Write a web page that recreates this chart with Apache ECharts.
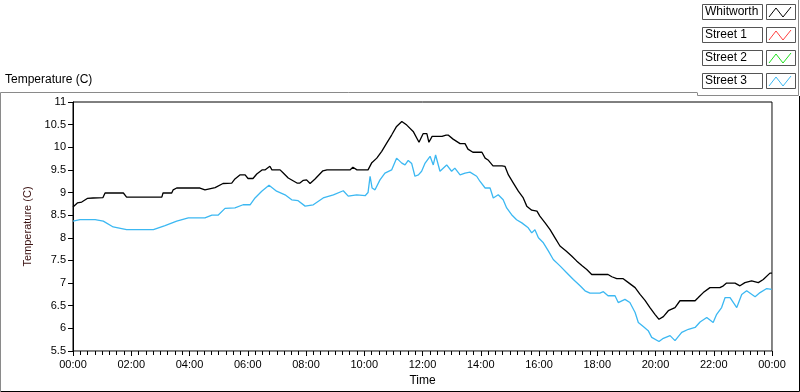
<!DOCTYPE html>
<html>
<head>
    <meta charset="utf-8">
    <title>Temperature</title>
    <script src="https://cdn.jsdelivr.net/npm/echarts@6/dist/echarts.min.js"></script>
    <style>
        html, body { margin: 0; padding: 0; background: #fff; }
        #main { width: 800px; height: 392px; }
    </style>
</head>
<body>
<div id="main"></div>
<script>
    // series names + colours (legend)
    var seriesNames = ['Whitworth', 'Street 1', 'Street 2', 'Street 3'];
    var seriesColors = ['#000000', '#ff4040', '#20e020', '#3cb8f2'];

    // Whitworth: time in hours, temperature
    var whitHours = [0, 0.15, 0.30, 0.49, 0.69, 1.03, 1.10, 1.73, 1.84, 3.05, 3.09, 3.39, 3.44, 3.56, 4.36, 4.53, 4.88,
        5.15, 5.45, 5.56, 5.73, 5.91, 6.01, 6.18, 6.31, 6.49, 6.59, 6.76, 6.83, 7.11, 7.22, 7.39, 7.69, 7.79, 7.91,
        8.02, 8.14, 8.31, 8.58, 8.72, 9.51, 9.61, 9.75, 10.13, 10.26, 10.43, 10.60, 10.77, 10.94, 11.11, 11.29,
        11.46, 11.68, 11.88, 12.02, 12.15, 12.22, 12.33, 12.67, 12.81, 12.88, 13.05, 13.29, 13.46, 13.56, 13.73,
        14.04, 14.15, 14.25, 14.42, 14.73, 14.83, 14.95, 15.12, 15.29, 15.46, 15.58, 15.75, 15.93, 16.03, 16.21,
        16.38, 16.55, 16.72, 16.93, 17.12, 17.29, 17.47, 17.64, 17.81, 18.37, 18.50, 18.67, 18.88, 19.07, 19.30,
        19.47, 19.64, 19.81, 19.98, 20.12, 20.27, 20.44, 20.67, 20.84, 21.36, 21.47, 21.64, 21.87, 22.21, 22.33,
        22.44, 22.73, 22.90, 23.07, 23.30, 23.53, 23.70, 23.93, 24];
    var whitTemp = [8.68, 8.77, 8.79, 8.87, 8.88, 8.89, 8.99, 8.99, 8.90, 8.90, 8.99, 8.99, 9.06, 9.10, 9.10, 9.06, 9.11,
        9.20, 9.21, 9.30, 9.39, 9.39, 9.31, 9.31, 9.41, 9.50, 9.50, 9.58, 9.50, 9.50, 9.43, 9.32, 9.21, 9.21, 9.27,
        9.28, 9.20, 9.30, 9.48, 9.50, 9.50, 9.56, 9.50, 9.50, 9.66, 9.76, 9.91, 10.09, 10.27, 10.46, 10.57,
        10.49, 10.35, 10.11, 10.30, 10.30, 10.11, 10.24, 10.24, 10.27, 10.27, 10.18, 10.08, 10.08, 9.96, 9.89,
        9.89, 9.76, 9.72, 9.59, 9.59, 9.58, 9.39, 9.21, 9.03, 8.88, 8.70, 8.61, 8.59, 8.48, 8.33,
        8.18, 8.00, 7.82, 7.71, 7.60, 7.49, 7.39, 7.30, 7.19, 7.19, 7.14, 7.10, 7.10, 7.01, 6.90,
        6.75, 6.62, 6.46, 6.31, 6.20, 6.26, 6.39, 6.46, 6.61, 6.61, 6.68, 6.79, 6.90, 6.90, 6.94,
        7.00, 7.00, 6.94, 7.01, 7.05, 7.01, 7.08, 7.22, 7.22];

    // Street 3
    var st3Hours = [0, 0.24, 0.58, 0.76, 1.04, 1.38, 1.84, 2.76, 3.16, 3.56, 3.96, 4.09, 4.53, 4.77, 4.98, 5.22, 5.56,
        5.84, 6.08, 6.25, 6.48, 6.73, 6.99, 7.28, 7.51, 7.73, 7.97, 8.02, 8.25, 8.59, 8.94, 9.28, 9.45, 9.74, 10.03,
        10.13, 10.20, 10.27, 10.37, 10.54, 10.71, 10.94, 11.11, 11.29, 11.40, 11.51, 11.63, 11.74, 11.86, 11.97,
        12.09, 12.26, 12.37, 12.45, 12.60, 12.83, 13.00, 13.11, 13.29, 13.46, 13.63, 13.86, 13.97, 14.15, 14.32,
        14.43, 14.60, 14.77, 14.89, 15.06, 15.23, 15.41, 15.63, 15.75, 15.86, 15.98, 16.15, 16.32, 16.49, 16.72,
        16.95, 17.18, 17.41, 17.58, 17.75, 18.09, 18.21, 18.37, 18.61, 18.72, 18.95, 19.12, 19.30, 19.41, 19.58,
        19.75, 19.87, 20.12, 20.27, 20.50, 20.67, 20.90, 21.13, 21.36, 21.53, 21.76, 21.98, 22.10, 22.27, 22.39,
        22.56, 22.79, 22.96, 23.13, 23.42, 23.59, 23.82, 23.99];
    var st3Temp = [8.37, 8.40, 8.40, 8.40, 8.37, 8.24, 8.18, 8.18, 8.27, 8.37, 8.44, 8.44, 8.44, 8.50, 8.50, 8.65, 8.66,
        8.73, 8.73, 8.88, 9.03, 9.16, 9.03, 8.95, 8.84, 8.82, 8.70, 8.66, 8.73, 8.88, 8.95, 9.04, 8.92, 8.95, 8.93,
        9.00, 9.36, 9.10, 9.06, 9.28, 9.43, 9.50, 9.76, 9.65, 9.61, 9.71, 9.64, 9.36, 9.39, 9.47,
        9.65, 9.80, 9.61, 9.83, 9.47, 9.61, 9.47, 9.54, 9.39, 9.43, 9.45, 9.36, 9.25, 9.10, 9.10,
        8.88, 8.95, 8.84, 8.66, 8.51, 8.40, 8.33, 8.22, 8.11, 8.18, 8.00, 7.89, 7.71, 7.52, 7.38,
        7.23, 7.08, 6.94, 6.83, 6.78, 6.78, 6.81, 6.72, 6.72, 6.57, 6.64, 6.57, 6.35, 6.13, 6.04,
        5.95, 5.80, 5.71, 5.78, 5.84, 5.73, 5.91, 5.98, 6.02, 6.14, 6.24, 6.13, 6.31, 6.46, 6.68,
        6.68, 6.46, 6.75, 6.83, 6.70, 6.79, 6.88, 6.86];

    function pairs(xs, ys) {
        var out = [];
        for (var i = 0; i < xs.length; i++) out.push([xs[i], ys[i]]);
        return out;
    }

    var myChart = echarts.init(document.getElementById('main'));
    var font = 'Liberation Sans';

    // LabVIEW style legend boxes, top right
    var legendItems = [];
    for (var i = 0; i < seriesNames.length; i++) {
        var y0 = 4 + i * 23;
        legendItems.push({
            type: 'rect', shape: { x: 702.5, y: y0 + 0.5, width: 60, height: 15 },
            style: { fill: '#fff', stroke: '#555', lineWidth: 1 }
        });
        legendItems.push({
            type: 'text', x: 705, y: y0 + 8,
            style: { text: seriesNames[i], fill: '#000', font: '12px ' + font, textVerticalAlign: 'middle' }
        });
        legendItems.push({
            type: 'rect', shape: { x: 766.5, y: y0 + 0.5, width: 29, height: 15 },
            style: { fill: '#fff', stroke: '#555', lineWidth: 1 }
        });
        legendItems.push({
            type: 'polyline',
            shape: { points: [[769, y0 + 13], [776, y0 + 4], [783, y0 + 13], [791, y0 + 3]] },
            style: { stroke: seriesColors[i], lineWidth: 1, fill: null }
        });
    }

    var option = {
        animation: false,
        textStyle: { fontFamily: font },
        title: {
            text: 'Temperature (C)', left: 0, top: 69,
            textStyle: { fontSize: 12, fontWeight: 'normal', color: '#000', fontFamily: font }
        },
        grid: { left: 73, right: 28, top: 102, bottom: 40, show: true, borderColor: '#000', borderWidth: 1 },
        graphic: [
            // outer panel frame
            { type: 'polyline', shape: { points: [[0.5, 391], [0.5, 92.5], [697, 92.5]] },
              style: { stroke: '#8a8a8a', lineWidth: 1, fill: null } },
            { type: 'polyline', shape: { points: [[697.5, 92.5], [697.5, 95.5], [798.5, 95.5], [798.5, 0]] },
              style: { stroke: '#8a8a8a', lineWidth: 1, fill: null } },
            { type: 'polyline', shape: { points: [[0.5, 391.5], [799.5, 391.5], [799.5, 96]] },
              style: { stroke: '#000', lineWidth: 1, fill: null } },
            // right plot border in grey
            { type: 'line', shape: { x1: 772.5, y1: 102, x2: 772.5, y2: 353 },
              style: { stroke: '#8a8a8a', lineWidth: 1 } }
        ].concat(legendItems),
        xAxis: {
            type: 'value', min: 0, max: 24, interval: 2,
            name: 'Time', nameLocation: 'middle', nameGap: 24,
            nameTextStyle: { fontSize: 12, color: '#000', fontFamily: font },
            axisLine: { lineStyle: { color: '#8a8a8a', width: 1 } },
            axisTick: { length: 5, lineStyle: { color: '#000' } },
            minorTick: { show: true, splitNumber: 8, length: 4, lineStyle: { color: '#000' } },
            splitLine: { show: false },
            axisLabel: {
                fontSize: 11, color: '#000', margin: 8,
                formatter: function (v) {
                    var h = v % 24;
                    return (h < 10 ? '0' : '') + h + ':00';
                }
            }
        },
        yAxis: {
            type: 'value', min: 5.5, max: 11, interval: 0.5,
            name: 'Temperature (C)', nameLocation: 'middle', nameGap: 37, nameRotate: 90,
            nameTextStyle: { fontSize: 11, color: '#3a1010', fontFamily: font },
            axisLine: { show: true, lineStyle: { color: '#000', width: 1 } },
            axisTick: { show: true, length: 5, lineStyle: { color: '#000' } },
            splitLine: { show: false },
            axisLabel: { fontSize: 11, color: '#000', margin: 7 }
        },
        series: [
            { name: seriesNames[0], type: 'line', data: pairs(whitHours, whitTemp), showSymbol: false,
              lineStyle: { color: seriesColors[0], width: 1.3 }, itemStyle: { color: seriesColors[0] } },
            { name: seriesNames[1], type: 'line', data: [], showSymbol: false,
              lineStyle: { color: seriesColors[1], width: 1 } },
            { name: seriesNames[2], type: 'line', data: [], showSymbol: false,
              lineStyle: { color: seriesColors[2], width: 1 } },
            { name: seriesNames[3], type: 'line', data: pairs(st3Hours, st3Temp), showSymbol: false,
              lineStyle: { color: seriesColors[3], width: 1.3 }, itemStyle: { color: seriesColors[3] } }
        ]
    };

    myChart.setOption(option);
</script>
</body>
</html>
